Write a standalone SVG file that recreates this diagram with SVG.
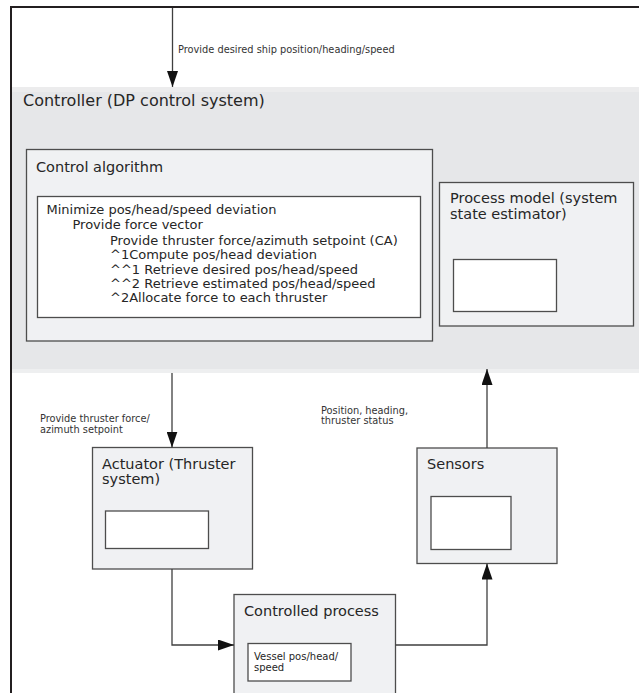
<svg xmlns="http://www.w3.org/2000/svg" width="639" height="693" viewBox="0 0 639 693">
  <style>
    text { font-family: "DejaVu Sans", Verdana, sans-serif; fill: #262626; }
    .title { font-size: 16px; }
    .head { font-size: 14.5px; }
    .body { font-size: 13px; }
    .lbl { font-size: 9.8px; fill: #333; }
    .small { font-size: 10px; }
    .box { fill: #f0f1f3; stroke: #4d4d4d; stroke-width: 1.3; }
    .inner { fill: #ffffff; stroke: #4d4d4d; stroke-width: 1.3; }
    .wire { fill: none; stroke: #3f3f3f; stroke-width: 1.3; marker-end: url(#arrow); }
    .frame { fill: none; stroke: #231f20; stroke-width: 2; }
  </style>
  <defs>
    <marker id="arrow" markerUnits="userSpaceOnUse" markerWidth="16" markerHeight="11" refX="16" refY="5.5" orient="auto">
      <path d="M0,0 L16,5.5 L0,11 z" fill="#111"/>
    </marker>
  </defs>

  <rect width="639" height="693" fill="#ffffff"/>

  <!-- page frame -->
  <path class="frame" d="M11,693 V7 H639"/>

  <!-- controller container -->
  <g id="controller">
    <rect x="12" y="87" width="627" height="286" fill="#e6e7e9"/>
    <rect x="12" y="87" width="627" height="5" fill="#ececed"/>
    <rect x="12" y="369" width="627" height="4" fill="#eeeff0"/>
    <text class="title" x="23" y="106">Controller (DP control system)</text>
  </g>

  <g id="control-algorithm">
    <rect class="box" x="26.5" y="149.5" width="406" height="191.5"/>
    <text class="head" x="36" y="172">Control algorithm</text>
    <rect class="inner" x="37.5" y="196.5" width="383" height="121"/>
    <text class="body" x="46.5" y="214">Minimize pos/head/speed deviation</text>
    <text class="body" x="72.5" y="229">Provide force vector</text>
    <text class="body" x="110" y="245">Provide thruster force/azimuth setpoint (CA)</text>
    <text class="body" x="110" y="259">^1Compute pos/head deviation</text>
    <text class="body" x="110" y="274">^^1 Retrieve desired pos/head/speed</text>
    <text class="body" x="110" y="288">^^2 Retrieve estimated pos/head/speed</text>
    <text class="body" x="110" y="302">^2Allocate force to each thruster</text>
  </g>

  <g id="process-model">
    <rect class="box" x="439.5" y="182.5" width="194" height="143.5"/>
    <text class="head" x="450" y="203">Process model (system</text>
    <text class="head" x="450" y="219">state estimator)</text>
    <rect class="inner" x="453.5" y="259.5" width="103" height="52"/>
  </g>

  <g id="actuator">
    <rect class="box" x="92.5" y="447.5" width="160" height="121.5"/>
    <text class="head" x="102" y="469">Actuator (Thruster</text>
    <text class="head" x="102" y="484">system)</text>
    <rect class="inner" x="105.5" y="511" width="103" height="37.5"/>
  </g>

  <g id="sensors">
    <rect class="box" x="417" y="448" width="140" height="115.5"/>
    <text class="head" x="427" y="469">Sensors</text>
    <rect class="inner" x="431" y="496.5" width="80" height="53"/>
  </g>

  <g id="controlled-process">
    <rect class="box" x="234" y="594.5" width="161.5" height="110"/>
    <text class="head" x="244" y="616">Controlled process</text>
    <rect class="inner" x="248" y="643.5" width="103" height="37.5"/>
    <text class="small" x="254" y="660">Vessel pos/head/</text>
    <text class="small" x="254" y="671">speed</text>
  </g>

  <!-- connectors -->
  <g id="connectors">
    <path class="wire" d="M172.5,8 V87"/>
    <path class="wire" d="M172,373 V447.5"/>
    <path class="wire" d="M172,569 V645 H234"/>
    <path class="wire" d="M395.5,645 H487 V563.5"/>
    <path class="wire" d="M487,448 V369"/>
  </g>

  <!-- connector labels -->
  <g id="labels">
    <text class="lbl" x="178" y="53">Provide desired ship position/heading/speed</text>
    <text class="lbl" x="40" y="422">Provide thruster force/</text>
    <text class="lbl" x="40" y="433">azimuth setpoint</text>
    <text class="lbl" x="321" y="414">Position, heading,</text>
    <text class="lbl" x="321" y="424">thruster status</text>
  </g>
</svg>
